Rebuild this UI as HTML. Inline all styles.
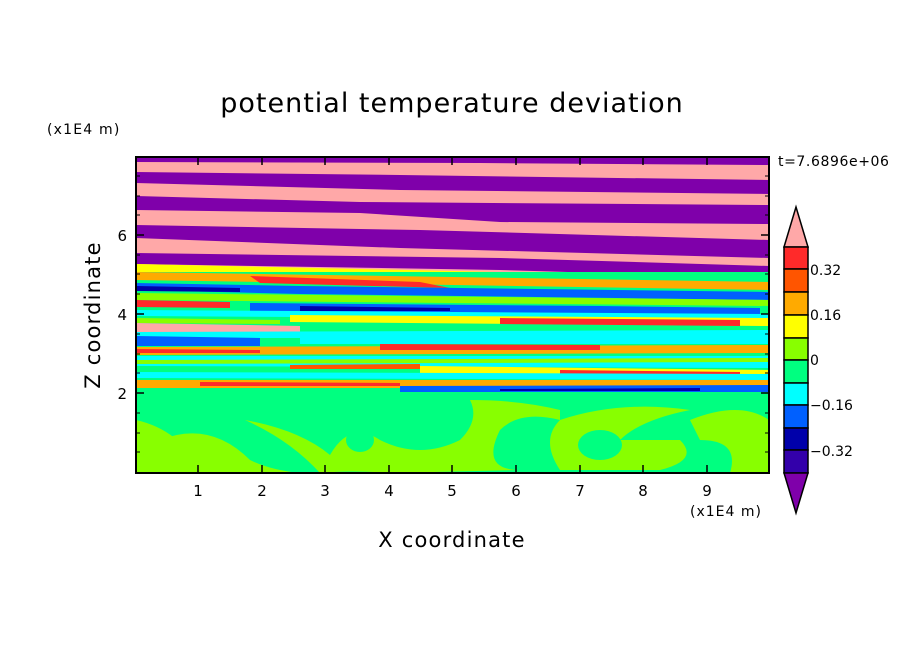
<!DOCTYPE html>
<html><head><style>body{margin:0;background:#fff}svg{display:block}text{font-family:"DejaVu Sans","Liberation Sans",sans-serif;fill:#000}</style></head>
<body>
<svg width="904" height="654" viewBox="0 0 904 654" xmlns="http://www.w3.org/2000/svg">
<defs><clipPath id="c"><rect x="136" y="157" width="633" height="316"/></clipPath></defs>
<g clip-path="url(#c)">
<rect x="136" y="157" width="633" height="316" fill="#00ff80"/>
<rect x="136" y="157" width="633" height="130" fill="#ffa8a8"/>
<polygon points="136,157 769,157 769,165 480,163 136,162" fill="#7f00aa"/>
<polygon points="136,172 400,175 769,180 769,194 400,190 136,183" fill="#7f00aa"/>
<polygon points="136,196 360,202 769,205 769,224 500,222 360,213 136,210" fill="#7f00aa"/>
<polygon points="136,225 420,230 769,240 769,258 400,248 136,238" fill="#7f00aa"/>
<polygon points="136,253 500,258 769,266 769,278 500,270 136,264" fill="#7f00aa"/>
<polygon points="136,264 769,278 769,286 136,272" fill="#ffff00"/>
<rect x="136" y="272" width="633" height="120" fill="#00ff80"/>
<polygon points="136,272 769,282 769,290 136,280" fill="#ffaa00"/>
<polygon points="250,276 420,282 450,288 260,283" fill="#ff2a2a"/>
<polygon points="136,283 300,286 769,292 769,300 300,294 136,290" fill="#0060ff"/>
<polygon points="136,286 240,288 240,292 136,291" fill="#0000aa"/>
<polygon points="136,293 769,300 769,306 136,300" fill="#88ff00"/>
<polygon points="136,300 230,302 230,308 136,307" fill="#ff2a2a"/>
<polygon points="250,303 600,306 760,308 760,314 600,316 250,313" fill="#0060ff"/>
<polygon points="300,306 450,308 450,311 300,311" fill="#0000aa"/>
<polygon points="136,310 769,314 769,320 136,316" fill="#00ffff"/>
<polygon points="290,315 769,318 769,326 290,322" fill="#ffff00"/>
<polygon points="500,318 740,320 740,326 500,324" fill="#ff2a2a"/>
<polygon points="136,318 280,320 280,324 136,323" fill="#88ff00"/>
<polygon points="136,323 300,326 300,332 136,332" fill="#ffa8a8"/>
<polygon points="136,332 769,330 769,338 136,338" fill="#00ffff"/>
<polygon points="136,336 260,338 260,346 136,346" fill="#0060ff"/>
<polygon points="300,337 769,336 769,344 300,344" fill="#00ffff"/>
<polygon points="136,347 769,345 769,353 136,355" fill="#ffaa00"/>
<polygon points="136,349 260,350 260,353 136,353" fill="#ff2a2a"/>
<polygon points="380,344 600,345 600,350 380,350" fill="#ff2a2a"/>
<polygon points="136,356 769,356 769,368 136,366" fill="#00ffff"/>
<polygon points="136,360 769,358 769,362 136,364" fill="#88ff00"/>
<polygon points="290,365 420,364 420,369 290,369" fill="#ff5500"/>
<polygon points="420,366 769,370 769,376 420,374" fill="#ffff00"/>
<polygon points="560,370 740,372 740,375 560,374" fill="#ff2a2a"/>
<polygon points="136,372 769,374 769,380 136,378" fill="#00ffff"/>
<polygon points="136,380 769,380 769,388 136,388" fill="#ffaa00"/>
<polygon points="200,382 400,383 400,386 200,386" fill="#ff2a2a"/>
<polygon points="400,386 769,385 769,392 400,392" fill="#0060ff"/>
<polygon points="500,389 700,388 700,391 500,391" fill="#0000aa"/>
<rect x="136" y="392" width="633" height="81" fill="#00ff80"/>
<path d="M136,420 Q180,430 200,470 L136,473Z" fill="#88ff00"/>
<path d="M160,440 Q210,420 250,460 Q270,470 300,473 L160,473 Q150,455 160,440Z" fill="#88ff00"/>
<path d="M245,420 Q300,430 330,455 Q350,420 380,440 Q420,460 460,440 Q480,420 470,400 Q520,400 560,410 L560,420 Q520,410 500,430 Q480,470 520,470 L390,473 Q350,470 320,473 Q290,440 245,420Z" fill="#88ff00"/>
<path d="M560,420 Q620,400 690,410 Q640,420 620,440 L680,440 Q700,460 660,470 L560,470 Q540,440 560,420Z" fill="#88ff00"/>
<path d="M690,420 Q740,400 769,420 L769,473 L730,473 Q740,440 700,440Z" fill="#88ff00"/>
<ellipse cx="600" cy="445" rx="22" ry="15" fill="#00ff80"/>
<ellipse cx="360" cy="440" rx="14" ry="12" fill="#00ff80"/>
</g>
<rect x="136" y="157" width="633" height="316" fill="none" stroke="#000" stroke-width="2"/>
<g stroke="#000" stroke-width="1.5">
<path d="M198,473v-8M262,473v-8M325,473v-8M389,473v-8M452,473v-8M516,473v-8M580,473v-8M643,473v-8M707,473v-8M198,157v8M262,157v8M325,157v8M389,157v8M452,157v8M516,157v8M580,157v8M643,157v8M707,157v8"/>
<path d="M136,393h8M136,314h8M136,235h8M769,393h-8M769,314h-8M769,235h-8"/>
<path d="M136,452h4M136,433h4M136,413h4M136,373h4M136,354h4M136,334h4M136,294h4M136,274h4M136,255h4M136,215h4M136,196h4M136,176h4M769,452h-4M769,433h-4M769,413h-4M769,373h-4M769,354h-4M769,334h-4M769,294h-4M769,274h-4M769,255h-4M769,215h-4M769,196h-4M769,176h-4" stroke-width="1"/>
</g>
<text x="452" y="112" font-size="27" letter-spacing="1" text-anchor="middle">potential temperature deviation</text>
<text x="47" y="134" font-size="14" letter-spacing="1.2">(x1E4 m)</text>
<text x="778" y="166" font-size="14" letter-spacing="0.6">t=7.6896e+06</text>
<g font-size="15" text-anchor="middle">
<text x="198" y="496">1</text><text x="262" y="496">2</text><text x="325" y="496">3</text><text x="389" y="496">4</text><text x="452" y="496">5</text><text x="516" y="496">6</text><text x="580" y="496">7</text><text x="643" y="496">8</text><text x="707" y="496">9</text>
</g>
<g font-size="15" text-anchor="end"><text x="127" y="399">2</text><text x="127" y="320">4</text><text x="127" y="241">6</text></g>
<text x="690" y="516" font-size="14" letter-spacing="1">(x1E4 m)</text>
<text x="452" y="547" font-size="21" letter-spacing="1.2" text-anchor="middle">X coordinate</text>
<text transform="translate(100,315) rotate(-90)" font-size="21" letter-spacing="1.2" text-anchor="middle">Z coordinate</text>
<g stroke="#000" stroke-width="1.5">
<polygon points="796,207 808,247 784,247" fill="#ffa8a8"/>
<rect x="784" y="247" width="24" height="22" fill="#ff2a2a"/>
<rect x="784" y="269" width="24" height="23" fill="#ff5500"/>
<rect x="784" y="292" width="24" height="23" fill="#ffaa00"/>
<rect x="784" y="315" width="24" height="23" fill="#ffff00"/>
<rect x="784" y="338" width="24" height="22" fill="#88ff00"/>
<rect x="784" y="360" width="24" height="23" fill="#00ff80"/>
<rect x="784" y="383" width="24" height="22" fill="#00ffff"/>
<rect x="784" y="405" width="24" height="23" fill="#0060ff"/>
<rect x="784" y="428" width="24" height="22" fill="#0000aa"/>
<rect x="784" y="450" width="24" height="23" fill="#3300aa"/>
<polygon points="784,473 808,473 796,513" fill="#7f00aa"/>
</g>
<g font-size="14"><text x="810" y="275">0.32</text><text x="810" y="320">0.16</text><text x="810" y="365">0</text><text x="810" y="410">−0.16</text><text x="810" y="456">−0.32</text></g>
</svg>
</body></html>
